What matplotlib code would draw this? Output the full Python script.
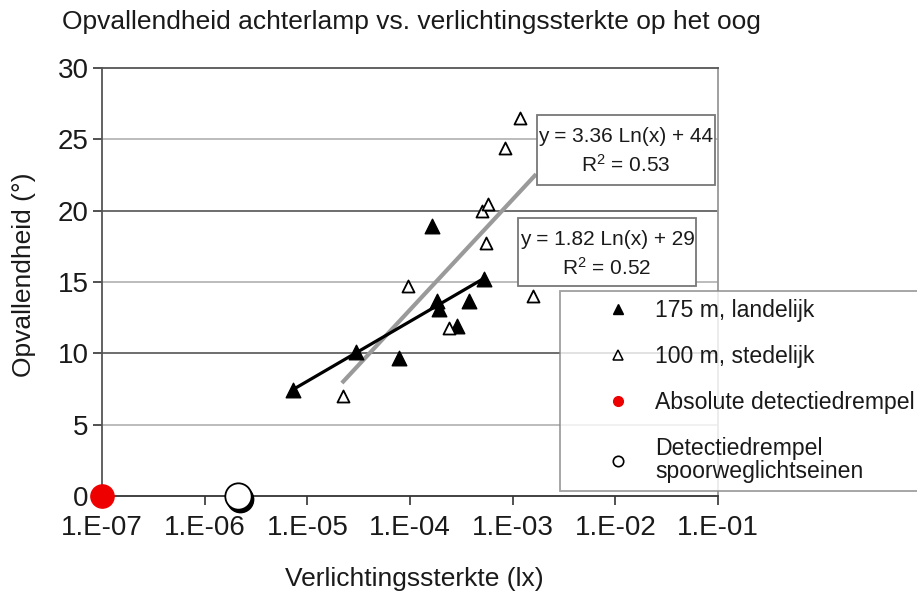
import numpy as np
import matplotlib
matplotlib.use("Agg")
import matplotlib.pyplot as plt
import matplotlib.transforms as mtransforms
from matplotlib.lines import Line2D
from matplotlib.patches import Rectangle

plt.rcParams['font.family'] = ['Liberation Sans', 'DejaVu Sans']
plt.rcParams['mathtext.fontset'] = 'custom'
plt.rcParams['mathtext.rm'] = 'Liberation Sans'
plt.rcParams['mathtext.it'] = 'Liberation Sans:italic'
plt.rcParams['mathtext.default'] = 'regular'

# Illuminance at the eye (lx) and conspicuity angle (deg)
rural_x = [7.3e-6, 3.0e-5, 7.9e-5, 1.62e-4, 1.84e-4, 1.9e-4, 2.85e-4, 3.75e-4, 5.2e-4]
rural_y = [7.4, 10.1, 9.7, 18.9, 13.7, 13.1, 11.9, 13.7, 15.2]
urban_x = [2.24e-5, 9.5e-5, 2.41e-4, 4.98e-4, 5.5e-4, 5.78e-4, 8.4e-4, 1.17e-3, 1.58e-3]
urban_y = [7.0, 14.7, 11.75, 20.0, 17.75, 20.5, 24.4, 26.5, 14.0]

# Logarithmic trend lines: y = a*ln(x) + b, with R^2
rural_fit = (1.82, 29, 0.52)
urban_fit = (3.36, 44, 0.53)

abs_threshold = (1e-7, 0)
rail_threshold = (2.1e-6, 0)

x_ticks = [1e-7, 1e-6, 1e-5, 1e-4, 1e-3, 1e-2, 1e-1]
x_tick_labels = ["1.E-07", "1.E-06", "1.E-05", "1.E-04", "1.E-03", "1.E-02", "1.E-01"]
y_ticks = [0, 5, 10, 15, 20, 25, 30]

legend_labels = ["175 m, landelijk", "100 m, stedelijk", "Absolute detectiedrempel",
                 "Detectiedrempel\nspoorweglichtseinen"]

title = "Opvallendheid achterlamp vs. verlichtingssterkte op het oog"
xlabel = "Verlichtingssterkte (lx)"
ylabel = "Opvallendheid (°)"

W, H = 917, 594
fig = plt.figure(figsize=(W / 100, H / 100), dpi=100)
ax = fig.add_axes([102 / W, (H - 496) / H, 616 / W, 428 / H])
ax.set_xscale('log')
ax.set_xlim(1e-7, 1e-1)
ax.set_ylim(0, 30)

# horizontal gridlines
for yv in y_ticks[1:-1]:
    ax.axhline(yv, color='#555555' if yv % 10 == 0 else '#b0b0b0', lw=1.2, zorder=0)

for side, col in [('left', '#555555'), ('top', '#555555'), ('right', '#999999'), ('bottom', '#333333')]:
    ax.spines[side].set_color(col)
    ax.spines[side].set_linewidth(1.3)

ax.set_xticks(x_ticks)
ax.set_xticklabels(x_tick_labels)
ax.xaxis.set_minor_locator(matplotlib.ticker.NullLocator())
ax.set_yticks(y_ticks)
ax.tick_params(axis='both', labelsize=20, colors='#333333', labelcolor='#1a1a1a',
               length=6.5, width=1.2)
ax.tick_params(axis='x', pad=7)
ax.tick_params(axis='y', pad=3)

# trend lines
a, b, _ = urban_fit
xs = np.geomspace(min(urban_x), 1.64e-3, 60)
ax.plot(xs, a * np.log(xs) + b, color='#9a9a9a', lw=3, zorder=2)
a, b, _ = rural_fit
xs = np.geomspace(min(rural_x), max(rural_x), 60)
ax.plot(xs, a * np.log(xs) + b, color='black', lw=2.3, zorder=3)

# measurements
ax.scatter(rural_x, rural_y, marker='^', s=110, color='black', zorder=4)
ax.scatter(urban_x, urban_y, marker='^', s=75, facecolor='white', edgecolor='black',
           linewidth=1.3, zorder=4)

# thresholds
ax.scatter([abs_threshold[0]], [abs_threshold[1]], s=280, color='#ee0000', zorder=5,
           clip_on=False)
shadow = mtransforms.offset_copy(ax.transData, fig=fig, x=2.5, y=-2.5, units='dots')
ax.scatter([rail_threshold[0]], [rail_threshold[1]], s=360, color='black', zorder=5,
           clip_on=False, transform=shadow)
ax.scatter([rail_threshold[0]], [rail_threshold[1]], s=360, facecolor='white',
           edgecolor='black', linewidth=1.3, zorder=6, clip_on=False)

# trend line equation boxes
def eq_box(x0, x1, ytop, ybot, xc, y1, y2, fit):
    a, b, r2 = fit
    fig.add_artist(Rectangle((x0 / W, 1 - ybot / H), (x1 - x0) / W, (ybot - ytop) / H,
                             transform=fig.transFigure, facecolor='white',
                             edgecolor='#777777', lw=1.3, zorder=10))
    fig.text(xc / W, 1 - y1 / H, f"y = {a:.2f} Ln(x) + {b:g}", ha='center', va='center',
             fontsize=15, color='#1a1a1a', zorder=11)
    fig.text(xc / W, 1 - y2 / H, f"R$^2$ = {r2:.2f}", ha='center', va='center',
             fontsize=15, color='#1a1a1a', zorder=11)

eq_box(537, 715, 115, 185, 626, 136, 165, urban_fit)
eq_box(518, 696, 218, 286, 607, 240, 268, rural_fit)

handles = [
    Line2D([], [], ls='none', marker='^', ms=7, color='black'),
    Line2D([], [], ls='none', marker='^', ms=6.5, mfc='white', mec='black', mew=1.1),
    Line2D([], [], ls='none', marker='o', ms=7, color='#ee0000'),
    Line2D([], [], ls='none', marker='o', ms=7.5, mfc='white', mec='black', mew=1.2),
]
leg = fig.legend(handles, legend_labels, loc='upper left',
                 bbox_to_anchor=(560 / W, 1 - 291 / H), bbox_transform=fig.transFigure,
                 fontsize=16.6, frameon=True, fancybox=False, borderaxespad=0,
                 borderpad=0.35, handlelength=4.35, handletextpad=-0.57, labelspacing=1.0)
leg.get_frame().set_edgecolor('#888888')
leg.get_frame().set_linewidth(1.3)
leg.set_zorder(12)
for t in leg.get_texts():
    t.set_color('#1a1a1a')
    t.set_linespacing(1.0)

fig.text(62 / W, 1 - 22 / H, title, ha='left', va='center', fontsize=19, color='#1a1a1a')
fig.text(414 / W, 1 - 579 / H, xlabel, ha='center', va='center', fontsize=19, color='#1a1a1a')
fig.text(24 / W, 1 - 275 / H, ylabel, ha='center', va='center', rotation=90, fontsize=19,
         color='#1a1a1a')

fig.savefig("out.png", dpi=100)
